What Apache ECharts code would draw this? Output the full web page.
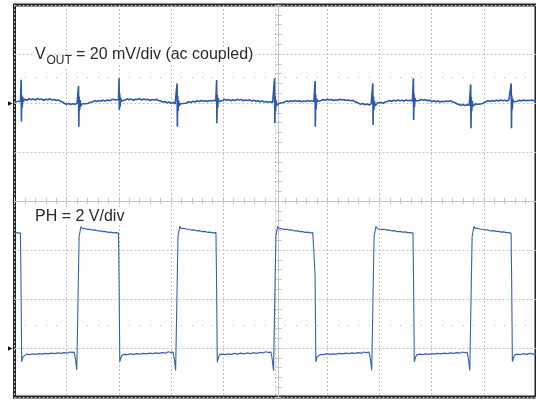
<!DOCTYPE html>
<html>
<head>
<meta charset="utf-8">
<script src="https://cdn.jsdelivr.net/npm/echarts@6/dist/echarts.min.js"></script>
<style>
  html, body { margin: 0; padding: 0; background: #fff; }
  #chart { width: 536px; height: 400px; }
</style>
</head>
<body>
<div id="chart"></div>
<script>
// x in scope divisions (10 div across)
// VOUT in mV (ac coupled, 20 mV/div), ground marker 2 div below top
const voutPoints = [
  [0.000, 0.5], [0.030, 0.9], [0.060, 0.6], [0.090, 1.1], [0.115, 0.8],
  [0.124, 1.0], [0.128, 9.5], [0.133, -7.6], [0.140, 3.2], [0.148, -1.8], [0.158, 2.4], [0.170, 0.6],
  [0.200, 1.6], [0.240, 1.1], [0.280, 1.8], [0.320, 1.3], [0.360, 1.7], [0.400, 1.2], [0.440, 1.9],
  [0.480, 1.4], [0.520, 1.6], [0.560, 1.1], [0.600, 1.5], [0.640, 1.3], [0.680, 1.7], [0.720, 1.2],
  [0.760, 1.4], [0.800, 1.0], [0.840, 1.3], [0.880, 0.7], [0.920, 0.4], [0.960, -0.2], [1.000, -0.5],
  [1.040, -0.2], [1.080, -0.6], [1.120, -0.3], [1.160, -0.5], [1.200, -0.1], [1.220, -0.4],
  [1.228, 6.9], [1.233, -9.7], [1.240, 2.5], [1.248, -3.0], [1.258, 1.2], [1.270, -1.4],
  [1.290, -0.4], [1.310, -1.0], [1.340, -0.3], [1.370, -0.8], [1.400, -0.2], [1.430, -0.6], [1.460, 0.3],
  [1.500, 0.5], [1.540, 0.9], [1.580, 0.6], [1.620, 1.0], [1.660, 0.7], [1.700, 1.1], [1.740, 0.8],
  [1.780, 1.2], [1.820, 0.9], [1.860, 1.3], [1.900, 1.5], [1.940, 1.2], [1.970, 1.6], [1.995, 1.4],
  [2.005, 10.1], [2.010, -2.9], [2.017, 4.0], [2.025, -1.5], [2.035, 2.2], [2.048, 0.8],
  [2.080, 1.5], [2.120, 1.2], [2.160, 1.7], [2.200, 1.3], [2.240, 1.6], [2.280, 1.1], [2.320, 1.5],
  [2.360, 1.4], [2.400, 1.8], [2.440, 1.2], [2.480, 1.6], [2.520, 1.3], [2.560, 1.5], [2.600, 1.0],
  [2.640, 1.4], [2.680, 1.2], [2.720, 1.5], [2.760, 1.0], [2.800, 0.8], [2.840, 0.4], [2.880, 0.6],
  [2.920, 0.1], [2.960, 0.4], [3.000, -0.1], [3.040, 0.2], [3.080, -0.3], [3.110, 0.1],
  [3.118, 8.0], [3.123, -9.7], [3.130, 2.8], [3.138, -3.2], [3.148, 1.0], [3.160, -1.2],
  [3.180, -0.3], [3.210, 0.2], [3.240, -0.2], [3.270, 0.3], [3.300, 0.0], [3.340, 0.5], [3.380, 0.2],
  [3.420, 0.7], [3.460, 0.4], [3.500, 0.9], [3.540, 0.6], [3.580, 1.0], [3.620, 0.7], [3.660, 0.9],
  [3.700, 0.6], [3.740, 1.0], [3.780, 0.8], [3.820, 1.1], [3.860, 0.8],
  [3.876, 9.4], [3.881, -8.3], [3.888, 3.5], [3.896, -2.0], [3.906, 2.0], [3.918, 0.7],
  [3.950, 1.3], [3.990, 1.0], [4.030, 1.5], [4.070, 1.1], [4.110, 1.4], [4.150, 0.9], [4.190, 1.3],
  [4.230, 1.0], [4.270, 1.5], [4.310, 1.2], [4.350, 1.4], [4.390, 0.9], [4.430, 1.2], [4.470, 1.0],
  [4.510, 1.3], [4.550, 0.8], [4.590, 1.1], [4.630, 0.7], [4.670, 0.9], [4.710, 0.5], [4.750, 0.8],
  [4.790, 0.4], [4.830, 0.6], [4.870, 0.3], [4.910, 0.5], [4.950, 0.2], [4.980, 0.4],
  [4.987, 10.1], [4.992, -8.3], [4.999, 3.0], [5.007, -3.4], [5.017, 1.1], [5.030, -1.0],
  [5.050, -0.5], [5.080, -0.1], [5.110, -0.6], [5.140, 0.1], [5.180, 0.4], [5.220, 0.8], [5.260, 0.5],
  [5.300, 0.9], [5.340, 0.6], [5.380, 1.0], [5.420, 0.7], [5.460, 0.9], [5.500, 0.5], [5.540, 0.8],
  [5.580, 0.6], [5.620, 1.0], [5.660, 0.7], [5.700, 0.9], [5.740, 0.6], [5.755, 0.8],
  [5.764, 9.0], [5.769, -9.7], [5.776, 3.6], [5.784, -2.4], [5.794, 1.8], [5.806, 0.6],
  [5.840, 1.3], [5.880, 1.0], [5.920, 1.4], [5.960, 1.1], [6.000, 1.5], [6.040, 1.2], [6.080, 1.4],
  [6.120, 1.0], [6.160, 1.3], [6.200, 1.1], [6.240, 1.5], [6.280, 1.2], [6.320, 1.4], [6.360, 1.0],
  [6.400, 1.2], [6.440, 0.9], [6.480, 1.1], [6.520, 0.6], [6.560, 0.3], [6.600, -0.1], [6.640, -0.5],
  [6.680, -0.2], [6.720, -0.7], [6.760, -0.4], [6.800, -0.8], [6.840, -0.3], [6.865, -0.6],
  [6.871, 8.0], [6.876, -9.0], [6.883, 2.6], [6.891, -2.8], [6.901, 0.9], [6.914, -1.1],
  [6.935, -0.4], [6.965, 0.1], [6.995, -0.3], [7.030, 0.2], [7.070, -0.1], [7.110, 0.4], [7.150, 0.6],
  [7.190, 1.0], [7.230, 0.7], [7.270, 1.1], [7.310, 0.8], [7.350, 1.2], [7.390, 0.9], [7.430, 1.1],
  [7.470, 0.8], [7.510, 1.2], [7.550, 0.9], [7.590, 1.1], [7.630, 0.8], [7.642, 1.0],
  [7.649, 10.1], [7.654, -6.9], [7.661, 3.8], [7.669, -1.7], [7.679, 2.1], [7.691, 0.8],
  [7.720, 1.3], [7.760, 1.0], [7.800, 1.4], [7.840, 1.1], [7.880, 1.3], [7.920, 0.9], [7.960, 1.2],
  [8.000, 0.6], [8.040, 0.9], [8.080, 0.5], [8.120, 0.8], [8.160, 0.4], [8.200, 0.7], [8.240, 0.5],
  [8.280, 0.8], [8.320, 0.6], [8.360, 0.9], [8.400, 0.5], [8.440, 0.2], [8.480, -0.3], [8.520, -0.6],
  [8.560, -0.9], [8.600, -0.6], [8.640, -1.0], [8.680, -0.7], [8.720, -0.9], [8.742, -0.6],
  [8.748, 7.6], [8.753, -10.3], [8.760, 2.4], [8.768, -3.3], [8.778, 0.8], [8.790, -1.3],
  [8.810, -0.8], [8.840, -0.4], [8.870, -0.9], [8.900, -0.5], [8.930, -0.7], [8.960, -0.3], [9.000, 0.1],
  [9.040, 0.5], [9.080, 0.9], [9.120, 0.6], [9.160, 1.0], [9.200, 0.7], [9.240, 1.1], [9.280, 0.8],
  [9.320, 1.2], [9.360, 0.9], [9.400, 1.1], [9.440, 0.8], [9.480, 1.2], [9.515, 0.9],
  [9.525, 8.0], [9.530, -10.3], [9.537, 3.1], [9.545, -2.6], [9.555, 1.6], [9.567, 0.5],
  [9.600, 1.0], [9.640, 0.7], [9.680, 1.1], [9.720, 0.8], [9.760, 1.2], [9.800, 0.9], [9.840, 1.1],
  [9.880, 1.0], [9.920, 1.2], [9.960, 0.9], [10.000, 1.1]
];

// PH switch node in V (2 V/div), ground marker 1 div above bottom
const phPoints = [
  [0.000, 4.71], [0.035, 4.74], [0.070, 4.70], [0.100, 4.73], [0.113, 4.69],
  [0.123, 3.00], [0.138, -0.57], [0.163, -0.36], [0.188, -0.28],
  [0.230, -0.25], [0.290, -0.27], [0.350, -0.24], [0.410, -0.26], [0.470, -0.23], [0.530, -0.25],
  [0.590, -0.22], [0.650, -0.24], [0.710, -0.21], [0.770, -0.23], [0.830, -0.20], [0.890, -0.22],
  [0.950, -0.19], [1.010, -0.21], [1.060, -0.16], [1.100, -0.18], [1.144, -0.17],
  [1.169, -0.45], [1.194, -0.90], [1.214, 1.50], [1.239, 4.55], [1.274, 4.96], [1.304, 4.87],
  [1.350, 4.88], [1.400, 4.84], [1.450, 4.85], [1.500, 4.81], [1.550, 4.82], [1.600, 4.78],
  [1.650, 4.78], [1.700, 4.75], [1.750, 4.75], [1.800, 4.72], [1.850, 4.73], [1.900, 4.70],
  [1.950, 4.71], [1.994, 4.69],
  [2.004, 3.00], [2.019, -0.56], [2.044, -0.37], [2.069, -0.28],
  [2.110, -0.26], [2.170, -0.27], [2.230, -0.24], [2.290, -0.26], [2.350, -0.23], [2.410, -0.25],
  [2.470, -0.22], [2.530, -0.24], [2.590, -0.21], [2.650, -0.23], [2.710, -0.20], [2.770, -0.22],
  [2.830, -0.19], [2.890, -0.21], [2.950, -0.15], [3.000, -0.18], [3.040, -0.17],
  [3.065, -0.45], [3.090, -0.92], [3.110, 1.50], [3.135, 4.55], [3.170, 4.97], [3.200, 4.88],
  [3.250, 4.89], [3.300, 4.85], [3.350, 4.85], [3.400, 4.81], [3.450, 4.82], [3.500, 4.78],
  [3.550, 4.79], [3.600, 4.75], [3.650, 4.76], [3.700, 4.72], [3.750, 4.73], [3.800, 4.70],
  [3.863, 4.71],
  [3.873, 3.00], [3.888, -0.58], [3.913, -0.37], [3.938, -0.27],
  [3.980, -0.25], [4.040, -0.27], [4.100, -0.24], [4.160, -0.26], [4.220, -0.22], [4.280, -0.25],
  [4.340, -0.21], [4.400, -0.24], [4.460, -0.20], [4.520, -0.23], [4.580, -0.19], [4.640, -0.22],
  [4.700, -0.18], [4.760, -0.20], [4.820, -0.15], [4.870, -0.18], [4.917, -0.17],
  [4.942, -0.46], [4.967, -0.93], [4.987, 1.50], [5.012, 4.56], [5.047, 4.97], [5.077, 4.87],
  [5.120, 4.88], [5.170, 4.84], [5.220, 4.85], [5.270, 4.81], [5.320, 4.82], [5.370, 4.78],
  [5.420, 4.78], [5.470, 4.75], [5.520, 4.75], [5.570, 4.72], [5.620, 4.73], [5.670, 4.70],
  [5.720, 4.71], [5.753, 4.69],
  [5.763, 3.00], [5.778, -0.57], [5.803, -0.36], [5.828, -0.28],
  [5.870, -0.26], [5.930, -0.27], [5.990, -0.23], [6.050, -0.26], [6.110, -0.24], [6.170, -0.25],
  [6.230, -0.22], [6.290, -0.24], [6.350, -0.21], [6.410, -0.23], [6.470, -0.20], [6.530, -0.22],
  [6.590, -0.19], [6.650, -0.21], [6.700, -0.16], [6.750, -0.19], [6.800, -0.17],
  [6.825, -0.45], [6.850, -0.91], [6.870, 1.50], [6.895, 4.55], [6.930, 4.96], [6.960, 4.87],
  [6.990, 4.88], [7.040, 4.84], [7.090, 4.85], [7.140, 4.81], [7.190, 4.82], [7.240, 4.78],
  [7.290, 4.79], [7.340, 4.75], [7.390, 4.76], [7.440, 4.73], [7.490, 4.74], [7.540, 4.71],
  [7.590, 4.71], [7.641, 4.69],
  [7.651, 3.00], [7.666, -0.57], [7.691, -0.37], [7.716, -0.28],
  [7.760, -0.25], [7.820, -0.27], [7.880, -0.24], [7.940, -0.26], [8.000, -0.23], [8.060, -0.25],
  [8.120, -0.22], [8.180, -0.24], [8.240, -0.21], [8.300, -0.23], [8.360, -0.20], [8.420, -0.22],
  [8.480, -0.19], [8.540, -0.21], [8.590, -0.16], [8.640, -0.19], [8.680, -0.17],
  [8.705, -0.46], [8.730, -0.92], [8.750, 1.50], [8.775, 4.55], [8.810, 4.97], [8.840, 4.88],
  [8.880, 4.89], [8.930, 4.85], [8.980, 4.85], [9.030, 4.82], [9.080, 4.82], [9.130, 4.78],
  [9.180, 4.79], [9.230, 4.76], [9.280, 4.76], [9.330, 4.73], [9.380, 4.74], [9.430, 4.71],
  [9.480, 4.71], [9.522, 4.69],
  [9.532, 3.00], [9.547, -0.56], [9.572, -0.37], [9.597, -0.28],
  [9.640, -0.25], [9.700, -0.27], [9.760, -0.23], [9.820, -0.26], [9.880, -0.22], [9.940, -0.25],
  [10.000, -0.23]
];

// channel scales: [min, max, per div]
const voutScale = [-120, 40, 20];
const phScale = [-2, 14, 2];
const timeDivs = [0, 10, 1];

const voutLabelMain = 'V';
const voutLabelSub = 'OUT';
const voutLabelRest = '= 20 mV/div (ac coupled)';
const phLabel = 'PH = 2 V/div';

const traceBlue = '#2d5aa8';
const gridGrey = '#c4c4c4';
const font = '"Liberation Sans", Arial, sans-serif';

const chart = echarts.init(document.getElementById('chart'), null, { renderer: 'canvas' });

const hidden = { show: false };
const groundLabel = (v) => (v === 0 ? '\u25B6' : '');

function centerX(offset, inside) {
  return {
    type: 'value', min: timeDivs[0], max: timeDivs[1], interval: 0.2,
    position: 'bottom', offset: offset,
    axisLine: { show: !inside, onZero: false, lineStyle: { color: gridGrey, width: 1 } },
    axisTick: { show: true, inside: inside, length: 3, lineStyle: { color: gridGrey } },
    axisLabel: hidden, splitLine: hidden
  };
}

function centerY(offset, inside) {
  return {
    type: 'value', min: 0, max: 8, interval: 0.2,
    position: 'left', offset: offset,
    axisLine: { show: !inside, onZero: false, lineStyle: { color: gridGrey, width: 1 } },
    axisTick: { show: true, inside: inside, length: 3, lineStyle: { color: gridGrey } },
    axisLabel: hidden, splitLine: hidden
  };
}

function dottedRow(offset) {
  return {
    type: 'value', min: timeDivs[0], max: timeDivs[1], interval: 0.2,
    position: 'bottom', offset: offset,
    axisLine: { show: false, onZero: false },
    axisTick: { show: true, inside: true, length: 1, lineStyle: { color: '#b8b8b8' } },
    axisLabel: hidden, splitLine: hidden
  };
}

chart.setOption({
  animation: false,
  backgroundColor: '#fff',
  grid: {
    left: 14.5, top: 5, width: 528, height: 392,
    show: true, borderColor: '#222', borderWidth: 3, backgroundColor: 'transparent'
  },
  xAxis: [
    {
      type: 'value', min: timeDivs[0], max: timeDivs[1], interval: timeDivs[2],
      axisLine: { show: false, onZero: false }, axisTick: hidden, axisLabel: hidden,
      splitLine: { show: true, lineStyle: { color: gridGrey, type: [2, 2], width: 1 } }
    },
    centerX(-196, false),
    centerX(-196, true),
    dottedRow(-319),
    dottedRow(-71)
  ],
  yAxis: [
    {
      type: 'value', min: voutScale[0], max: voutScale[1], interval: voutScale[2],
      position: 'left',
      axisLine: { show: false, onZero: false }, axisTick: hidden,
      axisLabel: { show: true, formatter: groundLabel, margin: 2, fontSize: 6, color: '#111' },
      splitLine: { show: true, lineStyle: { color: gridGrey, type: [2, 2], width: 1 } }
    },
    {
      type: 'value', min: phScale[0], max: phScale[1], interval: phScale[2],
      position: 'left',
      axisLine: { show: false, onZero: false }, axisTick: hidden,
      axisLabel: { show: true, formatter: groundLabel, margin: 2, fontSize: 6, color: '#111' },
      splitLine: hidden
    },
    centerY(-264, false),
    centerY(-264, true)
  ],
  graphic: [
    { type: 'text', z: 1, left: 33, top: 47,
      style: { text: voutLabelMain, font: '16px ' + font, fill: '#2a2a2a',
               backgroundColor: '#fff', padding: [0, 0, 0, 2] } },
    { type: 'text', z: 1, left: 46.5, top: 55,
      style: { text: voutLabelSub, font: '12px ' + font, fill: '#2a2a2a', backgroundColor: '#fff' } },
    { type: 'text', z: 1, left: 75, top: 47,
      style: { text: voutLabelRest, font: '16px ' + font, fill: '#2a2a2a',
               backgroundColor: '#fff', padding: [0, 2, 0, 1] } },
    { type: 'text', z: 1, left: 33, top: 209,
      style: { text: phLabel, font: '16px ' + font, fill: '#2a2a2a',
               backgroundColor: '#fff', padding: [0, 2, 0, 2] } }
  ],
  series: [
    {
      name: 'VOUT', type: 'line', xAxisIndex: 0, yAxisIndex: 0,
      data: voutPoints, showSymbol: false, symbol: 'none', z: 3,
      lineStyle: { color: traceBlue, width: 1.6 }
    },
    {
      name: 'PH', type: 'line', xAxisIndex: 0, yAxisIndex: 1,
      data: phPoints, showSymbol: false, symbol: 'none', z: 3,
      lineStyle: { color: '#3461b0', width: 1.1 }
    }
  ]
});
</script>
</body>
</html>
